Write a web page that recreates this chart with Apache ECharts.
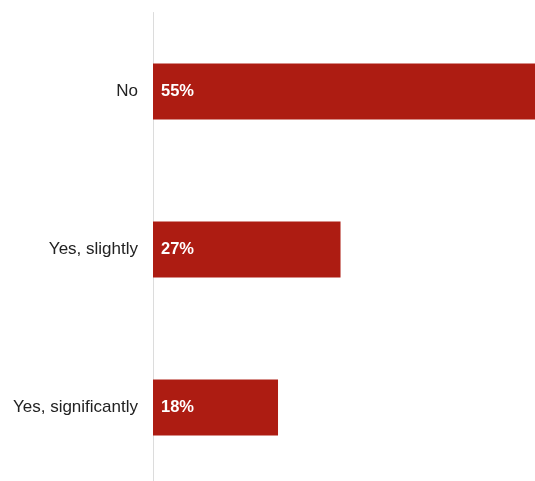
<!DOCTYPE html>
<html>
<head>
<meta charset="utf-8">
<script src="https://cdn.jsdelivr.net/npm/echarts@6/dist/echarts.min.js"></script>
<style>
  html, body { margin: 0; padding: 0; background: #fff; overflow: hidden; }
  #chart { width: 535px; height: 490px; }
</style>
</head>
<body>
<div id="chart"></div>
<script>
// Answer categories, top to bottom
const categories = ['No', 'Yes, slightly', 'Yes, significantly'];
// Share of respondents (%)
const shares = [55, 27, 18];

const FONT = '"Liberation Sans", Arial, sans-serif';

const chart = echarts.init(document.getElementById('chart'));
chart.setOption({
  animation: false,
  grid: { left: 153, right: 0, top: 12.5, height: 474, containLabel: false },
  xAxis: {
    type: 'value', min: 0, max: 55,
    show: false
  },
  yAxis: {
    type: 'category',
    data: categories,
    inverse: true,
    axisLine: { show: true, lineStyle: { color: '#dcdcdc', width: 1 } },
    axisTick: { show: false },
    axisLabel: {
      margin: 15,
      color: '#222',
      fontSize: 17,
      fontFamily: FONT
    }
  },
  series: [{
    type: 'bar',
    data: shares,
    barWidth: 56,
    itemStyle: { color: '#ad1c12' },
    label: {
      show: true,
      position: 'insideLeft',
      distance: 8,
      formatter: '{c}%',
      color: '#fff',
      fontWeight: 'bold',
      fontSize: 16.5,
      fontFamily: FONT
    }
  }]
});
</script>
</body>
</html>
